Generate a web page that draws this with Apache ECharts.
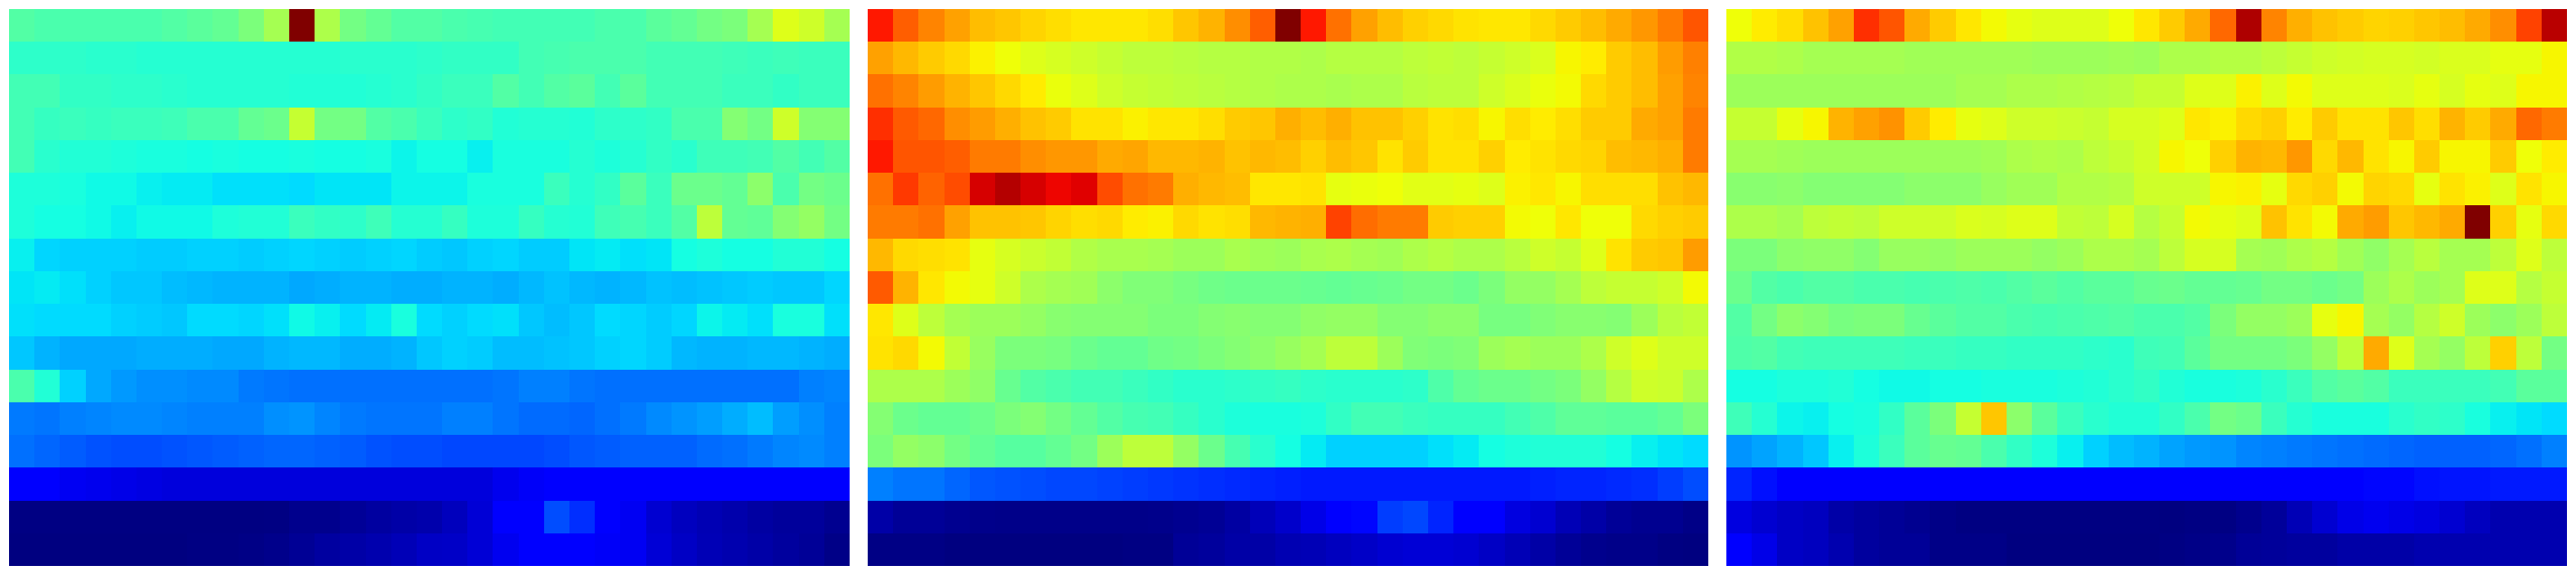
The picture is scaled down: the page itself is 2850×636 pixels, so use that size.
<!DOCTYPE html>
<html><head><meta charset="utf-8">
<style>html,body{margin:0;padding:0;background:#fff;overflow:hidden}#c{width:2850px;height:636px}</style>
<script src="https://cdn.jsdelivr.net/npm/echarts@6/dist/echarts.min.js"></script>
</head><body><div id="c"></div>
<script>
const columns = Array.from({length:33},(_,i)=>String(i));
const rows = Array.from({length:17},(_,i)=>String(i));
const panelLeft = [
[45,44,44,44,44,44,45,46,47,50,55,100,56,49,47,45,45,44,43.5,43,43,43,43,44,44,46,47,49,50,55,62,60,55],
[40.5,40.5,40.5,40,40,39.5,39.5,39.5,39.5,39.5,39.5,39.5,39.5,40,40,40,40.5,41,41,41,43,43.5,44,44,44,43,43,43,42.5,42,42.5,42,42],
[43,43,41,41,40.5,40.5,40,39.5,39.5,39.5,39.5,39,39,39,39.5,40,41,42,42,45,43,45,46,43,46,43,43,43,42,42,41,42,42],
[43,41.5,42,41.5,42,42,42.5,44,44,47,48,59,49,49,45,44,42,40.5,41,39,39.5,39.5,39,40.5,40.5,41,44,44,51,49,60,51,51],
[43,40,39,39,38.5,38,38,37.5,38,37.5,37.5,38,37.5,37.5,38,36.5,37.5,37.5,36,38,38,38,39.5,38.5,39.5,41,40,42.5,42.5,43,45,43,45],
[38.5,38.5,38,37,37,36,35.5,35.5,34.5,34.5,34.5,34,35,35,35,36.5,36.5,36.5,38,38,38,42,39.5,41,46,42,48,48,47,52,44,49,48],
[38.5,37.5,37.5,37,36,37,37,37,38.5,39,39,42,41,40.5,42.5,39.5,39.5,41.5,38.5,38.5,41.5,39.5,39,42.5,43.5,42,45,58,47,46.5,51,53,49],
[36,33.5,33,33,33,32.5,32.5,33,33,32.5,33,33.5,33,32.5,33,33.5,32.5,32,33,33.5,32.5,32.5,35,35.5,34.5,35,37.5,38.5,37.5,37.5,39,39,37.5],
[35,35.5,34.5,33,32,32,31,30.5,30,30,30,29,29.5,30,30,29.5,29.5,30,30,29.5,30.5,31.5,30.5,30,30.5,31.5,31,31.5,32,32.5,32,32,33.5],
[34.5,34,34,34,33,32.5,32,34,34,33.5,34.5,37,36,34,35.5,38,34,33,34,34.5,32,31,32,34,33.5,32.5,33.5,36.5,35.5,34.5,38,38,34.5],
[32,30,29,29,29,29.5,29.5,29.5,29,29,30,30.5,30.5,29.5,29.5,30,32,33,32.5,31,31,31.5,32,33,33.5,32.5,30.5,30,30,30.5,30.5,30,29.5],
[44,39,33,29,27.5,26.5,26.5,26,26,24.5,24,23.5,23.5,23.5,23.5,23.5,23.5,23.5,23.5,24,25,25,24,23.5,23.5,23.5,23.5,23.5,23.5,23.5,23.5,25,25.5],
[24.5,24,25,25.5,26,26,25.5,25,25,25,26.5,27,25.5,24.5,24,24,24,25,25,24,23,23,22.5,23.5,24.5,26,27,28,29.5,31,28,26.5,25],
[23.5,22.5,21.5,20.5,20,20,20.5,21,21.5,22,22.5,22.5,22,21.5,20.5,20,20,19.5,19.5,19.5,19.5,20,21,21.5,22,22,22,23,23.5,24.5,25.5,26,25],
[11,11,10,9.5,9,8.5,8,8,8,8,8,8,8,8,8,8,8,8,8,9.5,10.5,11,11,11,11,11,11,11,11,11,11,11,11],
[0.3,0.3,0.2,0.2,0.2,0.2,0.2,0.2,0.2,0.2,0.3,1.2,1.2,2,2.8,3.4,3.8,5.3,7.5,11,12.5,20,17,12,10,7,5.5,4.5,3.8,3,2.4,2.4,1.4],
[0,0,0,0,0,0,0,0.3,0.3,0.6,1,1.8,2.8,3.4,4,4.8,6,6.2,7.5,9.7,11,11,11,10.5,10,7.5,6,4.7,4.1,3.4,2.7,2,0.7]
];
const panelMiddle = [
[88.5,81,77,74,71,70,68.5,67.5,66.5,66.5,66.5,67.5,70,72,76,81,100,88.5,79,74,71,69,68,67,66.5,66.5,68,69.5,71,73,75,78,82],
[74,71.5,69.5,68,65.5,64,62,61,60,59,58,58,57.5,57,57,56.5,56.5,56,57,57,57,58,58.5,58,59,60,61.5,65,66,69.5,71,74.5,77.5],
[79,77,74.5,72,70,68,66,63.5,62,60,59,58.5,58,57.5,57,56.5,56,56,55.5,56,56,57.5,58,58,60,61.5,63.5,64.5,68,69.5,71,74,77],
[86,81.5,80,76,74.5,72.5,70.5,69.5,67,67,65.5,66.5,66.5,67.5,69.5,70,72.5,71,72.5,70.5,70.5,69,67,67.5,65,67.5,66,67.5,69.5,69.5,73,74,78],
[88.5,82,82,81,78,78,76,75,75,73,73.5,71.5,71.5,72,70.5,71.5,71,69,71,70,67,69.5,67,67,69,66,67,68,68.5,71,71.5,72.5,78],
[79,85,80.5,83,92.5,95.5,92.5,90.5,91.7,83,79,78,72.5,71.5,71,66.5,66.5,67,63,63.5,64,62.5,62.5,63,62,65.5,66.5,65,67.5,67.5,67.5,70.5,71.5],
[78,78,79,74,70.5,70.5,70,68.5,67.5,68,66,65.5,68,67,67.5,71.5,72,72.5,84,79.5,78,78,69.5,69,69,64.5,64,66.5,64,64,68,69,69.5],
[71.5,68,67.5,67,63,61,59.5,58.5,56.5,55.5,55.5,55,54,54,55.5,54.5,54,55.5,56,55,54.5,56,57,56,56,57.5,60,59,62,67,69.5,70,74.5],
[81.5,72,66.5,64.5,63,60,56,55,54.5,52,50.5,50.5,49.5,48.5,48,48,48,47.5,47,47.5,48,49,49,48,50,53,53,55,58,59,59,60,64.5],
[66.5,62,58,55,54,54,53,51.5,51,51,51,50,50,51,51.5,51,51,52.5,53,53,51,51,52,52,49.5,49.5,50.5,51.5,51.5,51,54,57.5,58.5],
[67,68,64.5,58.5,53.5,50,50,49.5,48,47,47,48.5,49,50,51,52,53.5,55,58,58,54,50.5,50,50.5,54,55,54,54,56,60,62,60,60],
[56,56,56,54,52.5,47.5,45,44,43,43,42,41,40,40,40.5,41,41.5,40.5,40,40,40,40.5,44.5,47,48,48,49,50,53,57,60,59.5,56],
[51,48,47,47,48,50,51,49,47,45,43.5,43,41.5,40,38.5,38,38,38.5,41,43,43,42,41.5,41.5,41.5,43,44.5,46.5,46.5,46,46,47,50],
[50,53,52,49,47,45.5,45.5,47,49,54,58,58,53,48,43.5,40,37.5,35.5,33,33,33,33,34.5,35.5,37.5,38.5,39,39,39,37.5,36,35,34],
[25,24,24,22.5,21,20.5,20,19.5,19.5,19,18.5,18,17.5,17,16.5,16,15.5,15,15,15,15,15,15,15,15,15,15.5,16,16,16.5,17,18.5,20],
[3.4,2,2,1.4,1,0.8,0.8,0.8,0.8,0.8,0.8,1,1.4,1.8,3,5,6.5,9,11,13,18.5,19.5,16,11.5,11,8.3,7,4.7,3.4,2,1.4,1.4,0.7],
[0.5,0.5,0.5,0,0,0,0,0,0,0,0.3,0.3,2,2.5,3.3,3.3,4.3,4.7,5.5,6.2,7,7.5,7.5,7,6,4.7,3.3,2,1.2,0.8,0.8,0.2,0]
];
const panelRight = [
[64,66,67.5,70.5,74,86,82,73,69.5,66.5,64.5,63,62,62,62,64,66.5,69.5,73,80,96,77,72.5,70.5,69.5,68.5,69,70,71,73,76,84,95],
[56.5,56.5,56,55,55,55,55,54.5,54.5,54.5,54.5,54.5,54,54,54,54.5,54,56,56,57,57,58,59,60,60.5,61,61,60.5,61.5,61.5,63,63,65],
[54,54,54,54,54,54,54,54,54,55,55,56,56,56.5,57,57.5,59,59,62,62,65.5,62,64.5,62,62,62,61.5,63,61,63,62,65,65],
[59,59,63,65,72,74,75.5,69.5,66,63,62,60,60,59.5,59,61,61,62,66.5,65.5,68,69,66,69.5,67,67,70,67.5,72,69.5,73,80,78],
[55,55,54.5,54,54,54,54,54,54,54,54.5,56,56.5,56,58,59,60.5,65,64,69,72,71.5,75,68,71.5,67,65,69.5,65,65,69.5,64,66],
[51.5,51.5,52,51,51,51,51,52,52,52,53.5,54.5,54.5,56.5,56.5,57,60,60,60,65,65.5,63,68,69,64.5,68.5,68,63,67,65.5,62,67,65],
[56,56,55,58,58.5,58,60,60,60,61.5,61,62,62,58.5,58,61,57,59,64.5,63,62,70.5,67,64.5,73,74.5,70,71.5,73,100,69,63,68],
[50,50,52,52.5,52.5,51,53.5,53.5,53,54,54,54,53,54,56,56,55,58,61,61,55,54.5,56,57,54.5,52.5,55,57.5,55,55,58,62,58],
[48,45,44,45,45,44,44,43.5,44,44.5,44,45,46,45,46,46,47.5,48,47,47,47.5,49,49,48,49,54,56,54,55,62,62,57,59],
[45,49,52,51,49.5,50,50,47.5,46,45,45,44,43.5,44,44.5,45,44,44,45,50,53,53,54,63,65,55,53,57,60,54,52,54,58],
[44.5,45,43,42.5,42.5,42.5,42.5,42,42,41.5,41.5,41,41,41,40.5,40,42.5,43,46,49,49,49,50,53,58,73,62,55,53,58,69,58,49],
[37.5,37.5,38.5,38.5,39,37.5,37,37,37.5,37.5,38,38,38,38.5,39,40,41,39,38,38,38.5,40,42,45,46,45,42,42,42,42,43,46,46],
[42.5,39.5,36.5,36,37.5,38,41,46,50,59,70,52,46,42,40,39,39,41,44,49,48,42,39.5,38,38,38,40,41,40.5,38,36,35,34],
[27,28.5,30,32,36,38.5,42,46,47.5,47,44,41,38.5,36,33,31,30,28.5,27.5,27,25.5,25,24.5,24,23.5,23,22.5,22,22,22,22.5,23.5,25],
[16,14,12.5,12,11,11,11,11,11,11,11,11,11,11,11,11,11,11,11,11,11,11,11,11.5,12,13,13,14,14.5,14.5,15,15,15],
[8.3,7,6,5.5,3.4,2.7,2,1.4,0.7,0.2,0.2,0.2,0.2,0.2,0.2,0.2,0.2,0,0.3,0.3,1.2,2.3,4.7,7,9,9.7,9,8.3,7,5.5,4.1,4.1,4.1],
[11,9,6,5.5,4.1,2.7,2,2,0.7,0.7,0.7,0,0,0,0,0,0,0.3,0.7,1,2,2.3,2.7,2.7,3.4,3.4,3.4,4.1,4.1,4.1,4.1,4.1,4.1]
];
const panels = [panelLeft, panelMiddle, panelRight];
const panelLefts = [10, 960, 1910];

// Jet colormap stops
function clamp(v){return Math.max(0,Math.min(1,v));}
function lerpTable(t,tb){for(let i=1;i<tb.length;i++){if(t<=tb[i][0]){const a=tb[i-1],b=tb[i];return a[1]+(b[1]-a[1])*(t-a[0])/(b[0]-a[0]);}}return tb[tb.length-1][1];}
const jetR=[[0,0],[.35,0],[.66,1],[.89,1],[1,.5]];
const jetG=[[0,0],[.125,0],[.375,1],[.64,1],[.91,0],[1,0]];
const jetB=[[0,.5],[.11,1],[.34,1],[.65,0],[1,0]];
const jetColors=[];
for(let i=0;i<=200;i++){const t=i/200;
  const c=[jetR,jetG,jetB].map(tb=>Math.round(clamp(lerpTable(t,tb))*255));
  jetColors.push('rgb('+c.join(',')+')');}

// Snap a cell edge to a whole pixel so neighbouring cells share their border exactly.
const snap = v => Math.ceil(v - 0.5);
function renderCell(params, api){
  const c = api.coord([api.value(0), api.value(1)]);
  const s = api.size([1, 1]);
  const x0 = snap(c[0] - s[0] / 2), x1 = snap(c[0] + s[0] / 2);
  const y0 = snap(c[1] - s[1] / 2), y1 = snap(c[1] + s[1] / 2);
  return {type:'rect', shape:{x:x0, y:y0, width:x1 - x0, height:y1 - y0},
          style:{fill:api.visual('color'), stroke:null, lineWidth:0}, silent:true};
}

const chart = echarts.init(document.getElementById('c'), null, {renderer:'canvas'});
const grid=[],xAxis=[],yAxis=[],series=[];
panels.forEach((p,k)=>{
  grid.push({left:panelLefts[k],top:10,width:930,height:616,containLabel:false});
  xAxis.push({type:'category',gridIndex:k,data:columns,show:false});
  yAxis.push({type:'category',gridIndex:k,data:rows,inverse:true,show:false});
  const d=[];
  p.forEach((r,y)=>r.forEach((v,x)=>d.push([x,y,v])));
  series.push({type:'custom',xAxisIndex:k,yAxisIndex:k,data:d,animation:false,progressive:0,
    encode:{x:0,y:1},renderItem:renderCell,clip:false});
});
chart.setOption({
  animation:false,backgroundColor:'#ffffff',tooltip:{show:false},
  grid,xAxis,yAxis,
  visualMap:{show:false,type:'continuous',dimension:2,min:0,max:100,seriesIndex:[0,1,2],inRange:{color:jetColors}},
  series
});
</script></body></html>
